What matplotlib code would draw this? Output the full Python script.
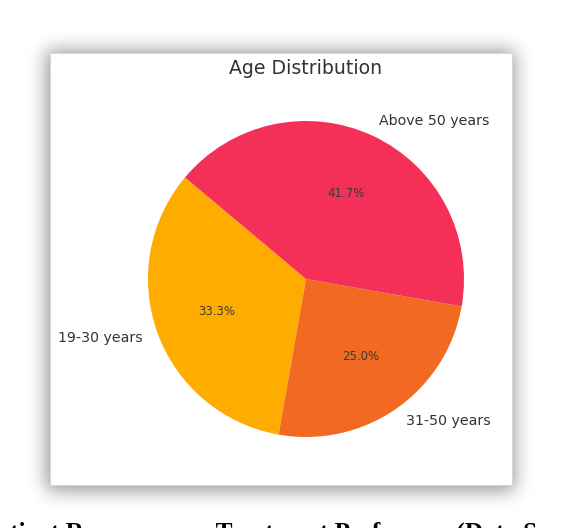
import numpy as np
import matplotlib
matplotlib.use("Agg")
import matplotlib.pyplot as plt
from matplotlib.patches import Rectangle
from math import erf

# Data
labels = ['19-30 years', '31-50 years', 'Above 50 years']
counts = [4, 3, 5]
colors = ['#FFAC00', '#F26A21', '#F53058']
title = 'Age Distribution'
caption = 'Patient Responses on Treatment Preference (Data Source)'

W, H = 564, 528
fig = plt.figure(figsize=(W / 100, H / 100), dpi=100)
fig.patch.set_facecolor('white')

# background layer in pixel coordinates (y down)
bg = fig.add_axes([0, 0, 1, 1])
bg.set_xlim(0, W)
bg.set_ylim(H, 0)
bg.axis('off')

# soft drop shadow around the chart card
x0, x1, y0, y1 = 49.5, 511.5, 52.5, 484.5
sig = 13.0
verf = np.vectorize(erf)
xs = np.arange(W) + 0.5
ys = np.arange(H) + 0.5
sx = 0.5 * (verf((xs - x0 + 3) / sig) - verf((xs - x1 - 3) / sig))
sy = 0.5 * (verf((ys - y0 + 2) / sig) - verf((ys - y1 - 6) / sig))
shadow = np.zeros((H, W, 4))
shadow[..., 3] = 0.42 * np.outer(sy, sx)
bg.imshow(shadow, extent=(0, W, H, 0), interpolation='bilinear', zorder=1)

bg.add_patch(Rectangle((x0, y0), x1 - x0, y1 - y0, facecolor='white',
                       edgecolor='#d8d8d8', linewidth=0.8, zorder=2))

# chart title
bg.text(306, 68, title, ha='center', va='center', fontsize=13.6,
        color='#333333', zorder=3)

# pie
cx, cy, r = 306, 279, 158
ax = fig.add_axes([(cx - r) / W, 1 - (cy + r) / H, 2 * r / W, 2 * r / H])
wedges, texts, autotexts = ax.pie(counts, labels=labels, colors=colors,
                                  autopct='%1.1f%%', startangle=140,
                                  textprops={'fontsize': 10.2, 'color': '#333333'})
for t in autotexts:
    t.set_fontsize(8.5)
    t.set_color('#3a3a3a')
ax.set_xlim(-1, 1)
ax.set_ylim(-1, 1)
ax.set_aspect('equal')

# document caption, cut off by the screenshot edge as in the source
fig.text(-18 / W, 1 - 540 / H, caption, ha='left', va='baseline',
         fontsize=18.2, fontweight='bold', family='Liberation Serif',
         color='black')

fig.savefig('out.png', dpi=100)
